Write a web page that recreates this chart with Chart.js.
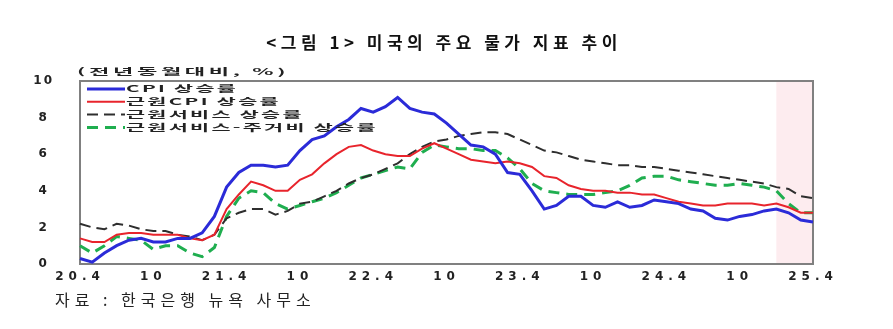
<!DOCTYPE html>
<html lang="ko">
<head>
<meta charset="utf-8">
<script src="https://cdn.jsdelivr.net/npm/chart.js@4.4.1/dist/chart.umd.min.js"></script>
<style>
  html, body { margin: 0; padding: 0; background: #fff; }
  #wrap { width: 893px; height: 329px; }
</style>
</head>
<body>
<div id="wrap"><canvas id="chart1"></canvas></div>
<script>
// monthly, 2020.4 ~ 2025.4
const months = [
  '20.4','20.5','20.6','20.7','20.8','20.9','20.10','20.11','20.12',
  '21.1','21.2','21.3','21.4','21.5','21.6','21.7','21.8','21.9','21.10','21.11','21.12',
  '22.1','22.2','22.3','22.4','22.5','22.6','22.7','22.8','22.9','22.10','22.11','22.12',
  '23.1','23.2','23.3','23.4','23.5','23.6','23.7','23.8','23.9','23.10','23.11','23.12',
  '24.1','24.2','24.3','24.4','24.5','24.6','24.7','24.8','24.9','24.10','24.11','24.12',
  '25.1','25.2','25.3','25.4'
];

const cpi = [
  0.3, 0.1, 0.6, 1.0, 1.3, 1.4, 1.2, 1.2, 1.4,
  1.4, 1.7, 2.6, 4.2, 5.0, 5.4, 5.4, 5.3, 5.4, 6.2, 6.8, 7.0,
  7.5, 7.9, 8.5, 8.3, 8.6, 9.1, 8.5, 8.3, 8.2, 7.7, 7.1, 6.5,
  6.4, 6.0, 5.0, 4.9, 4.0, 3.0, 3.2, 3.7, 3.7, 3.2, 3.1, 3.4,
  3.1, 3.2, 3.5, 3.4, 3.3, 3.0, 2.9, 2.5, 2.4, 2.6, 2.7, 2.9,
  3.0, 2.8, 2.4, 2.3
];

const coreCpi = [
  1.4, 1.2, 1.2, 1.6, 1.7, 1.7, 1.6, 1.6, 1.6,
  1.4, 1.3, 1.6, 3.0, 3.8, 4.5, 4.3, 4.0, 4.0, 4.6, 4.9, 5.5,
  6.0, 6.4, 6.5, 6.2, 6.0, 5.9, 5.9, 6.3, 6.6, 6.3, 6.0, 5.7,
  5.6, 5.5, 5.6, 5.5, 5.3, 4.8, 4.7, 4.3, 4.1, 4.0, 4.0, 3.9,
  3.9, 3.8, 3.8, 3.6, 3.4, 3.3, 3.2, 3.2, 3.3, 3.3, 3.3, 3.2,
  3.3, 3.1, 2.8, 2.8
];

const coreServices = [
  2.2, 2.0, 1.9, 2.2, 2.1, 1.9, 1.8, 1.8, 1.6,
  1.5, 1.3, 1.6, 2.5, 2.8, 3.0, 3.0, 2.7, 2.9, 3.3, 3.4, 3.7,
  4.0, 4.4, 4.7, 4.9, 5.2, 5.5, 6.0, 6.4, 6.7, 6.8, 7.0, 7.1,
  7.2, 7.2, 7.1, 6.8, 6.5, 6.2, 6.1, 5.9, 5.7, 5.6, 5.5, 5.4,
  5.4, 5.3, 5.3, 5.2, 5.1, 5.0, 4.9, 4.8, 4.7, 4.6, 4.5, 4.4,
  4.2, 4.1, 3.7, 3.6
];

const servicesExShelter = [
  1.0, 0.6, 1.0, 1.5, 1.4, 1.3, 0.8, 1.0, 1.0,
  0.6, 0.4, 0.9, 2.6, 3.6, 4.0, 3.9, 3.3, 3.0, 3.2, 3.4, 3.6,
  3.9, 4.3, 4.7, 4.9, 5.1, 5.3, 5.2, 6.1, 6.5, 6.4, 6.3, 6.3,
  6.2, 6.2, 5.8, 5.2, 4.4, 4.0, 3.9, 3.8, 3.8, 3.8, 3.9, 4.0,
  4.3, 4.7, 4.8, 4.8, 4.6, 4.5, 4.4, 4.3, 4.3, 4.4, 4.3, 4.2,
  4.0, 3.3, 2.8, 2.8
];

const seriesLabels = ['CPI 상승률', '근원CPI 상승률', '근원서비스 상승률', '근원서비스-주거비 상승률'];
const yTicks = [0, 2, 4, 6, 8, 10];
const shadeFrom = '25.1';

const titleText = '<그림 1> 미국의 주요 물가 지표 추이';
const unitText = '(전년동월대비, %)';
const sourceText = '자료 : 한국은행 뉴욕 사무소';

// x labels: "YY.4" in April, "10" in October, blank otherwise
function monthTick(label) {
  const m = label.split('.')[1];
  if (m === '4') return label;
  if (m === '10') return '10';
  return '';
}

// wide, flattened text (legend and unit label)
function drawWide(ctx, text, x, y, sx) {
  ctx.save();
  ctx.translate(x, y);
  ctx.scale(sx, 1);
  ctx.fillText(text, 0, 0);
  ctx.restore();
}

const decor = {
  id: 'decor',
  beforeDraw(chart) {
    chart.ctx.letterSpacing = '2px';
  },
  beforeDatasetsDraw(chart) {
    const { ctx, chartArea: a, scales: { x } } = chart;
    const x0 = x.getPixelForValue(months.indexOf(shadeFrom));
    ctx.save();
    // pink band over the latest months
    ctx.fillStyle = '#fdecef';
    ctx.fillRect(x0, a.top, a.right - x0, a.bottom - a.top);
    // plot frame
    ctx.strokeStyle = '#808080';
    ctx.lineWidth = 2;
    ctx.setLineDash([]);
    ctx.beginPath();
    ctx.rect(a.left, a.top, a.right - a.left, a.bottom - a.top);
    ctx.stroke();
    ctx.restore();
  },
  afterDatasetsDraw(chart) {
    // x tick labels are drawn after this (ticks.z = 1)
    chart.ctx.letterSpacing = '5px';
  },
  afterDraw(chart) {
    const { ctx, chartArea: a } = chart;
    ctx.save();
    ctx.textBaseline = 'middle';

    // title
    ctx.fillStyle = '#111';
    ctx.textAlign = 'center';
    ctx.font = 'bold 17px "Noto Sans CJK KR"';
    ctx.letterSpacing = '4.5px';
    ctx.fillText(titleText, 444, 43);

    // source
    ctx.textAlign = 'left';
    ctx.font = '16px "Noto Sans CJK KR"';
    ctx.letterSpacing = '5px';
    ctx.fillStyle = '#222';
    ctx.fillText(sourceText, 55, 300);

    // unit label
    ctx.font = 'bold 9px "Noto Sans CJK KR"';
    ctx.letterSpacing = '1.5px';
    drawWide(ctx, unitText, a.left - 3, a.top - 9.5, 2.45);

    // legend inside the plot, top-left
    ctx.letterSpacing = '1px';
    chart.data.datasets.forEach((ds, i) => {
      const y = a.top + 8 + i * 12.8;
      ctx.save();
      ctx.strokeStyle = ds.borderColor;
      ctx.lineWidth = ds.borderWidth;
      ctx.setLineDash(ds.borderDash || []);
      ctx.beginPath();
      ctx.moveTo(a.left + 7, y);
      ctx.lineTo(a.left + 45, y);
      ctx.stroke();
      ctx.restore();
      ctx.fillStyle = '#222';
      drawWide(ctx, ds.label, a.left + 46, y, 2.3);
    });

    ctx.restore();
    ctx.letterSpacing = '0px';
  }
};

const ctx = document.getElementById('chart1').getContext('2d');

new Chart(ctx, {
  type: 'line',
  data: {
    labels: months,
    datasets: [
      {
        label: seriesLabels[0],
        data: cpi,
        borderColor: '#2b2bd8',
        borderWidth: 3
      },
      {
        label: seriesLabels[1],
        data: coreCpi,
        borderColor: '#e8242c',
        borderWidth: 2
      },
      {
        label: seriesLabels[2],
        data: coreServices,
        borderColor: '#2e2e2e',
        borderWidth: 2,
        borderDash: [11, 6]
      },
      {
        label: seriesLabels[3],
        data: servicesExShelter,
        borderColor: '#1fae4f',
        borderWidth: 3,
        borderDash: [11, 7]
      }
    ]
  },
  options: {
    responsive: true,
    maintainAspectRatio: false,
    animation: false,
    layout: { padding: { left: 20, right: 80, top: 81, bottom: 35 } },
    elements: {
      point: { radius: 0 },
      line: { tension: 0, fill: false }
    },
    scales: {
      x: {
        offset: false,
        grid: { display: false, drawTicks: false },
        border: { display: false },
        afterFit: s => { s.height = 30; },
        ticks: {
          z: 1,
          autoSkip: false,
          maxRotation: 0,
          padding: 6,
          color: '#222',
          font: { family: 'DejaVu Sans', weight: 'bold', size: 12 },
          callback: function (v) { return monthTick(this.getLabelForValue(v)); }
        }
      },
      y: {
        min: 0,
        max: 10,
        grid: { display: false, drawTicks: false },
        border: { display: false },
        afterFit: s => { s.width = 60; },
        afterBuildTicks: s => { s.ticks = yTicks.map(v => ({ value: v })); },
        ticks: {
          crossAlign: 'center',
          padding: 28,
          color: '#222',
          font: { family: 'DejaVu Sans', weight: 'bold', size: 12 }
        }
      }
    },
    plugins: {
      legend: { display: false },
      tooltip: { enabled: false }
    }
  },
  plugins: [decor]
});
</script>
</body>
</html>
